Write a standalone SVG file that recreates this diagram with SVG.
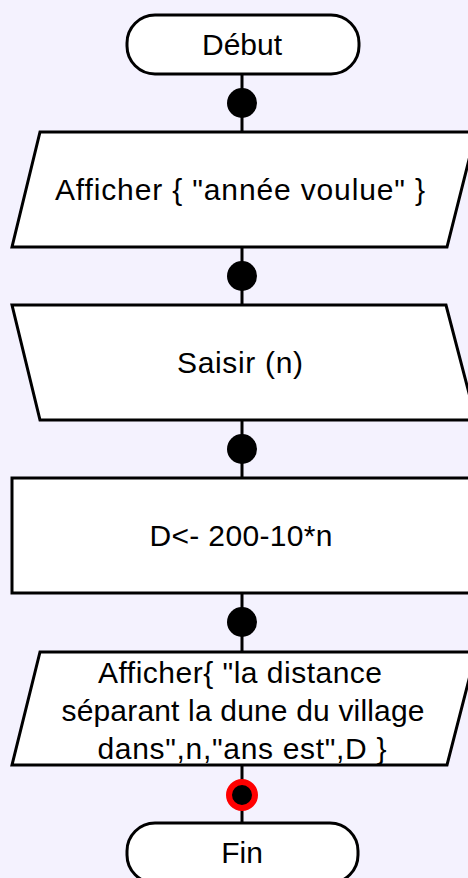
<svg xmlns="http://www.w3.org/2000/svg" width="468" height="878" viewBox="0 0 468 878">
<style>
.shape{fill:#ffffff;stroke:#000000;stroke-width:3;stroke-linejoin:miter}
.conn{stroke:#000000;stroke-width:3;fill:none}
.dot{fill:#000000}
.lbl{font-family:"Liberation Sans",Arial,sans-serif;font-size:30px;fill:#000000;text-anchor:middle}
</style>
<rect width="468" height="878" fill="#f4f2fe"/>
<g id="connectors">
<line class="conn" x1="242" y1="74" x2="242" y2="132"/>
<line class="conn" x1="242" y1="247" x2="242" y2="305"/>
<line class="conn" x1="242" y1="420" x2="242" y2="478"/>
<line class="conn" x1="242" y1="593" x2="242" y2="652"/>
<line class="conn" x1="242" y1="765" x2="242" y2="823"/>
<circle class="dot" cx="242" cy="103" r="15"/>
<circle class="dot" cx="242" cy="276" r="15"/>
<circle class="dot" cx="242" cy="449" r="15"/>
<circle class="dot" cx="242" cy="622" r="15"/>
<circle cx="242" cy="795" r="13" fill="#000000" stroke="#ff0000" stroke-width="6"/>
</g>
<g id="debut">
<rect class="shape" x="127" y="15" width="232" height="59" rx="28" ry="28"/>
<text class="lbl" x="242" y="55">Début</text>
</g>
<g id="afficher1">
<polygon class="shape" points="40,132 476,132 447,247 12,247"/>
<text class="lbl" x="240" y="200" textLength="370" lengthAdjust="spacing">Afficher { "année voulue" }</text>
</g>
<g id="saisir">
<polygon class="shape" points="12,305 446,305 476,420 40,420"/>
<text class="lbl" x="240" y="373" textLength="126" lengthAdjust="spacing">Saisir (n)</text>
</g>
<g id="calcul">
<rect class="shape" x="12" y="478" width="466" height="115"/>
<text class="lbl" x="241" y="546" textLength="183" lengthAdjust="spacing">D&lt;- 200-10*n</text>
</g>
<g id="afficher2">
<polygon class="shape" points="40,652 476,652 447,765 12,765"/>
<text class="lbl" x="240" y="683" textLength="284" lengthAdjust="spacing">Afficher{ "la distance</text>
<text class="lbl" x="243" y="721" textLength="363" lengthAdjust="spacing">séparant la dune du village</text>
<text class="lbl" x="242" y="759" textLength="289" lengthAdjust="spacing">dans",n,"ans est",D }</text>
</g>
<g id="fin">
<rect class="shape" x="127" y="823" width="231" height="60" rx="28" ry="28"/>
<text class="lbl" x="242" y="863">Fin</text>
</g>
</svg>
